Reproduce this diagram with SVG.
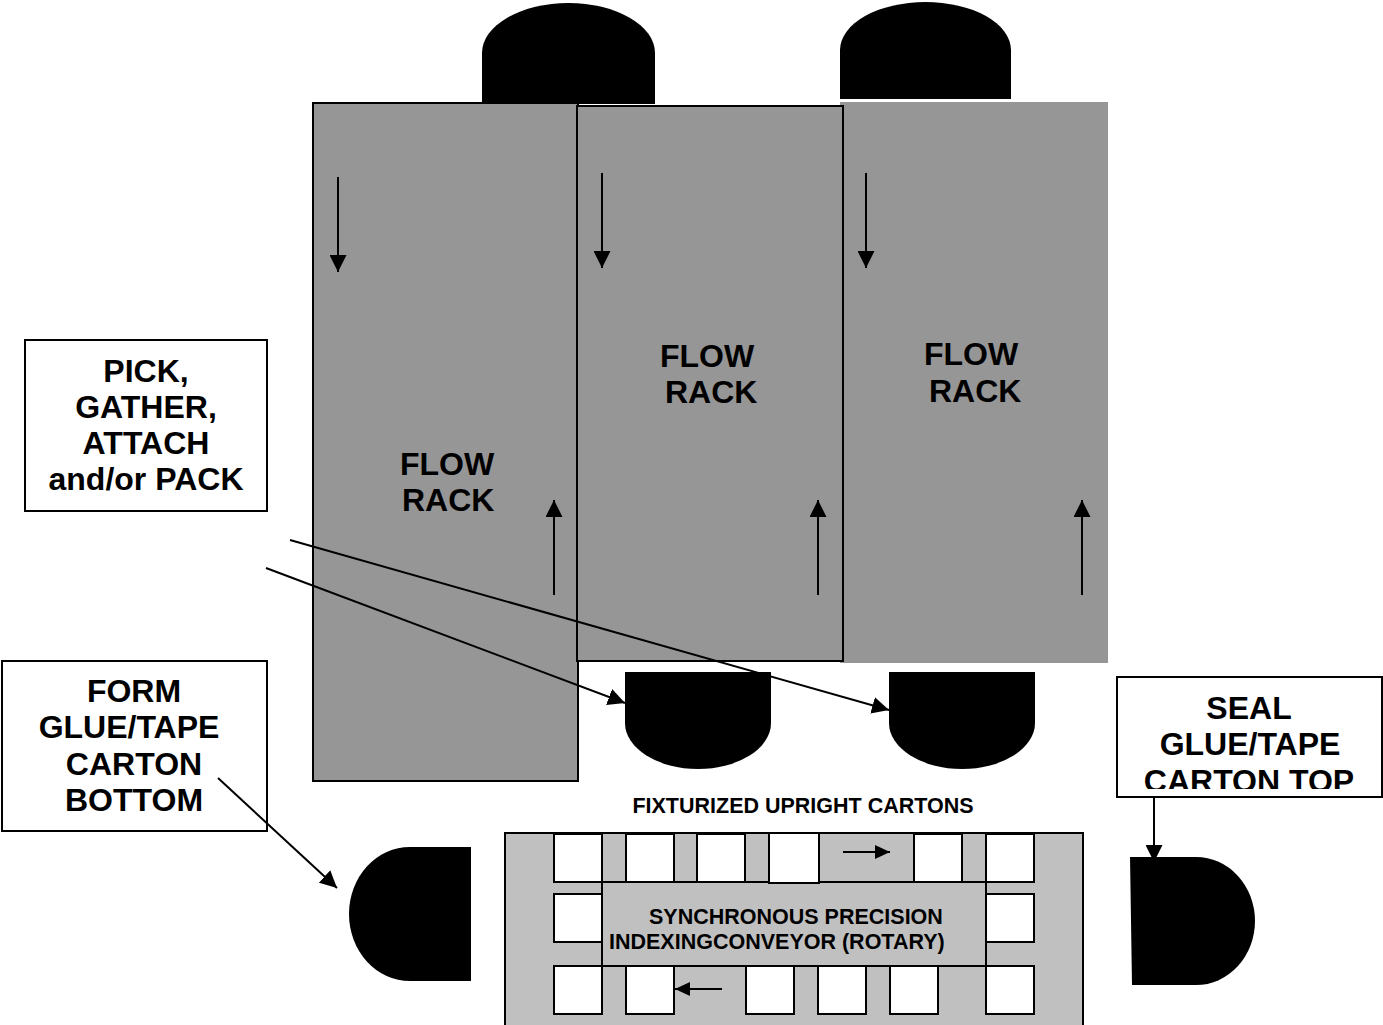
<svg xmlns="http://www.w3.org/2000/svg" width="1383" height="1025" viewBox="0 0 1383 1025">
  <style>
    .rack { fill: #969696; }
    .edge { stroke: #000; stroke-width: 2; }
    .blob { fill: #000; }
    .label { fill: #fff; stroke: #000; stroke-width: 2; }
    .big { font-family: "Liberation Sans", Arial, sans-serif; font-weight: bold; font-size: 32px; fill: #000; }
    .small { font-family: "Liberation Sans", Arial, sans-serif; font-weight: bold; font-size: 21.5px; fill: #000; }
    .mid { text-anchor: middle; }
    .conv { fill: #c0c0c0; stroke: #000; stroke-width: 2; }
    .slot { fill: #fff; stroke: #000; stroke-width: 2; }
    .ln { stroke: #000; stroke-width: 2; fill: none; }
  </style>
  <defs>
    <marker id="ah" markerUnits="userSpaceOnUse" markerWidth="17" markerHeight="17" refX="16" refY="8" orient="auto" viewBox="0 0 16 16">
      <path d="M0,0 L16,8 L0,16 Z" fill="#000"/>
    </marker>
    <marker id="ahs" markerUnits="userSpaceOnUse" markerWidth="15" markerHeight="15" refX="15" refY="7" orient="auto" viewBox="0 0 15 14">
      <path d="M0,0 L15,7 L0,14 Z" fill="#000"/>
    </marker>
    <clipPath id="sealclip"><rect x="1117" y="677" width="266" height="112"/></clipPath>
  </defs>

  <!-- stations (black D shapes) -->
  <g id="station-top-1"><path class="blob" d="M482,104 V53 A86.5,50 0 0 1 655,53 V104 Z"/></g>
  <g id="station-top-2"><path class="blob" d="M840,99 V50 A85.5,48 0 0 1 1011,50 V99 Z"/></g>
  <g id="station-bottom-1"><path class="blob" d="M625,672 H771 V723 A73,46 0 0 1 625,723 Z"/></g>
  <g id="station-bottom-2"><path class="blob" d="M889,672 H1035 V723 A73,46 0 0 1 889,723 Z"/></g>
  <g id="station-form"><path class="blob" d="M471,847 V981 H410 A61,67 0 0 1 410,847 Z"/></g>
  <g id="station-seal"><path class="blob" d="M1130,857 H1196 A59,64 0 0 1 1196,985 H1132 Z"/></g>

  <!-- flow racks -->
  <g id="rack-1">
    <rect class="rack edge" x="313" y="103" width="265" height="678"/>
    <text class="big" x="400" y="475">FLOW</text>
    <text class="big" x="402" y="511">RACK</text>
  </g>
  <g id="rack-3">
    <rect class="rack" x="840" y="102" width="268" height="561"/>
    <text class="big" x="924" y="365">FLOW</text>
    <text class="big" x="929" y="402">RACK</text>
  </g>
  <g id="rack-2">
    <rect class="rack edge" x="577" y="106" width="266" height="555"/>
    <text class="big" x="660" y="367">FLOW</text>
    <text class="big" x="665" y="403">RACK</text>
  </g>

  <!-- labels -->
  <g id="label-pick">
    <rect class="label" x="25" y="340" width="242" height="171"/>
    <text class="big mid" x="146" y="382">PICK,</text>
    <text class="big mid" x="146" y="418">GATHER,</text>
    <text class="big mid" x="146" y="454">ATTACH</text>
    <text class="big mid" x="146" y="490">and/or PACK</text>
  </g>
  <g id="label-form">
    <rect class="label" x="2" y="661" width="265" height="170"/>
    <text class="big mid" x="134" y="702">FORM</text>
    <text class="big mid" x="129" y="738">GLUE/TAPE</text>
    <text class="big mid" x="134" y="775">CARTON</text>
    <text class="big mid" x="134" y="811">BOTTOM</text>
  </g>
  <g id="label-seal">
    <rect class="label" x="1117" y="677" width="265" height="120"/>
    <g clip-path="url(#sealclip)">
      <text class="big mid" x="1249" y="719">SEAL</text>
      <text class="big mid" x="1250" y="755">GLUE/TAPE</text>
      <text class="big mid" x="1249" y="792">CARTON TOP</text>
    </g>
  </g>

  <g id="caption-fixturized">
    <text class="small mid" x="803" y="813">FIXTURIZED UPRIGHT CARTONS</text>
  </g>

  <!-- conveyor -->
  <g id="conveyor">
    <rect class="conv" x="505" y="833" width="578" height="200"/>
    <rect class="conv" x="602" y="882" width="384" height="84"/>
    <g>
      <rect class="slot" x="554" y="834" width="48" height="48"/>
      <rect class="slot" x="626" y="834" width="48" height="48"/>
      <rect class="slot" x="697" y="834" width="48" height="48"/>
      <rect class="slot" x="769" y="833" width="50" height="50"/>
      <rect class="slot" x="914" y="834" width="48" height="48"/>
      <rect class="slot" x="986" y="834" width="48" height="48"/>
      <rect class="slot" x="554" y="894" width="48" height="48"/>
      <rect class="slot" x="986" y="894" width="48" height="48"/>
      <rect class="slot" x="554" y="966" width="48" height="48"/>
      <rect class="slot" x="626" y="966" width="48" height="48"/>
      <rect class="slot" x="746" y="966" width="48" height="48"/>
      <rect class="slot" x="818" y="966" width="48" height="48"/>
      <rect class="slot" x="890" y="966" width="48" height="48"/>
      <rect class="slot" x="986" y="966" width="48" height="48"/>
    </g>
    <text class="small" x="649" y="924">SYNCHRONOUS PRECISION</text>
    <text class="small" x="609" y="949">INDEXINGCONVEYOR (ROTARY)</text>
  </g>

  <!-- connectors -->
  <g id="connectors">
    <line class="ln" x1="338" y1="177" x2="338" y2="272" marker-end="url(#ah)"/>
    <line class="ln" x1="554" y1="595" x2="554" y2="500" marker-end="url(#ah)"/>
    <line class="ln" x1="602" y1="173" x2="602" y2="268" marker-end="url(#ah)"/>
    <line class="ln" x1="818" y1="595" x2="818" y2="500" marker-end="url(#ah)"/>
    <line class="ln" x1="866" y1="173" x2="866" y2="268" marker-end="url(#ah)"/>
    <line class="ln" x1="1082" y1="595" x2="1082" y2="500" marker-end="url(#ah)"/>
    <line class="ln" x1="266" y1="568" x2="625" y2="703" marker-end="url(#ah)"/>
    <line class="ln" x1="290" y1="540" x2="889" y2="710" marker-end="url(#ah)"/>
    <line class="ln" x1="218" y1="778" x2="337" y2="888" marker-end="url(#ah)"/>
    <line class="ln" x1="1154" y1="797" x2="1154" y2="862" marker-end="url(#ah)"/>
    <line class="ln" x1="843" y1="852" x2="890" y2="852" marker-end="url(#ahs)"/>
    <line class="ln" x1="722" y1="989" x2="675" y2="989" marker-end="url(#ahs)"/>
  </g>
</svg>
